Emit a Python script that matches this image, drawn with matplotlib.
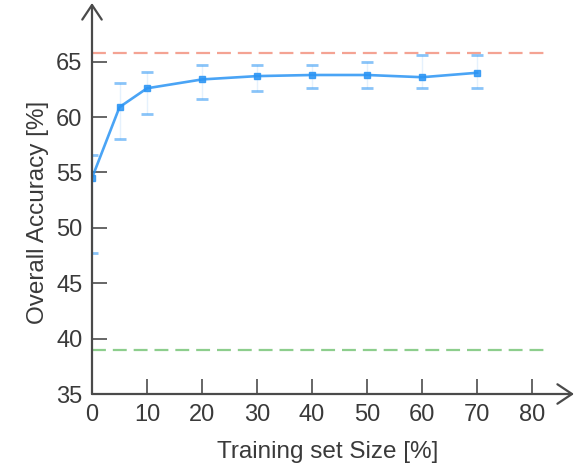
import matplotlib
matplotlib.use("Agg")
import matplotlib.pyplot as plt

plt.rcParams['font.family'] = ['Liberation Sans', 'DejaVu Sans']
plt.rcParams['lines.scale_dashes'] = False

train_size = [0, 5, 10, 20, 30, 40, 50, 60, 70]
accuracy = [54.5, 60.9, 62.6, 63.4, 63.7, 63.8, 63.8, 63.6, 64.0]
err_upper = [56.6, 63.1, 64.1, 64.7, 64.7, 64.7, 65.0, 65.6, 65.6]
err_lower = [47.7, 58.0, 60.3, 61.6, 62.4, 62.6, 62.6, 62.6, 62.6]
upper_ref = 65.8
lower_ref = 39.0
ref_span = [0, 83]
xticks = [0, 10, 20, 30, 40, 50, 60, 70, 80]
yticks = [35, 40, 45, 50, 55, 60, 65]

W, H = 574, 465
fig = plt.figure(figsize=(W / 100, H / 100), dpi=100)
ax = fig.add_axes([92 / W, 71 / H, (W - 92) / W, (394 - 3) / H])
ax.set_xlim(0, 87.6)
ax.set_ylim(35, 70.3)

blue = '#2A94F4'
yerr = [[a - l for a, l in zip(accuracy, err_lower)],
        [u - a for a, u in zip(accuracy, err_upper)]]
eb = ax.errorbar(train_size, accuracy, yerr=yerr, fmt='none', ecolor=blue,
                 elinewidth=1.0, capsize=4.5, capthick=2.0, alpha=0.55, zorder=3)
for line in eb[2]:
    line.set_alpha(0.12)
ax.plot(train_size, accuracy, color=blue, lw=1.9, marker='s', ms=4.5,
        mec=blue, mfc=blue, alpha=0.85, zorder=4)

ax.hlines(upper_ref, ref_span[0], ref_span[1], colors='#F4A393',
          linestyles=(0, (10, 5)), lw=1.6, zorder=2)
ax.hlines(lower_ref, ref_span[0], ref_span[1], colors='#8DCE8D',
          linestyles=(0, (10, 5)), lw=1.6, zorder=2)

for s in ax.spines.values():
    s.set_visible(False)

axis_col = '#4a4a4a'
ap = dict(arrowstyle='->,head_length=1.05,head_width=0.7', lw=1.6,
          color=axis_col, shrinkA=0, shrinkB=0)
ax.annotate('', xy=(0, 1), xytext=(0, 0), xycoords='axes fraction',
            arrowprops=ap, annotation_clip=False, zorder=5)
ap2 = dict(ap)
ax.annotate('', xy=(1, 0), xytext=(0, 0), xycoords='axes fraction',
            arrowprops=ap2, annotation_clip=False, zorder=5)

ax.set_xticks(xticks)
ax.set_yticks(yticks)
ax.tick_params(direction='in', length=11, width=1.4, color='#666666',
               labelsize=17, labelcolor='#3a3a3a', pad=7)

ax.set_xlabel('Training set Size [%]', fontsize=17.5, color='#3a3a3a')
ax.set_ylabel('Overall Accuracy [%]', fontsize=17.5, color='#3a3a3a')
ax.xaxis.set_label_coords(0.49, (394 - 452) / 391)
ax.xaxis.label.set_va('center')
ax.yaxis.set_label_coords((38 - 92) / 482, (394 - 212) / 391)
ax.yaxis.label.set_va('center')

fig.savefig('out.png', dpi=100)
